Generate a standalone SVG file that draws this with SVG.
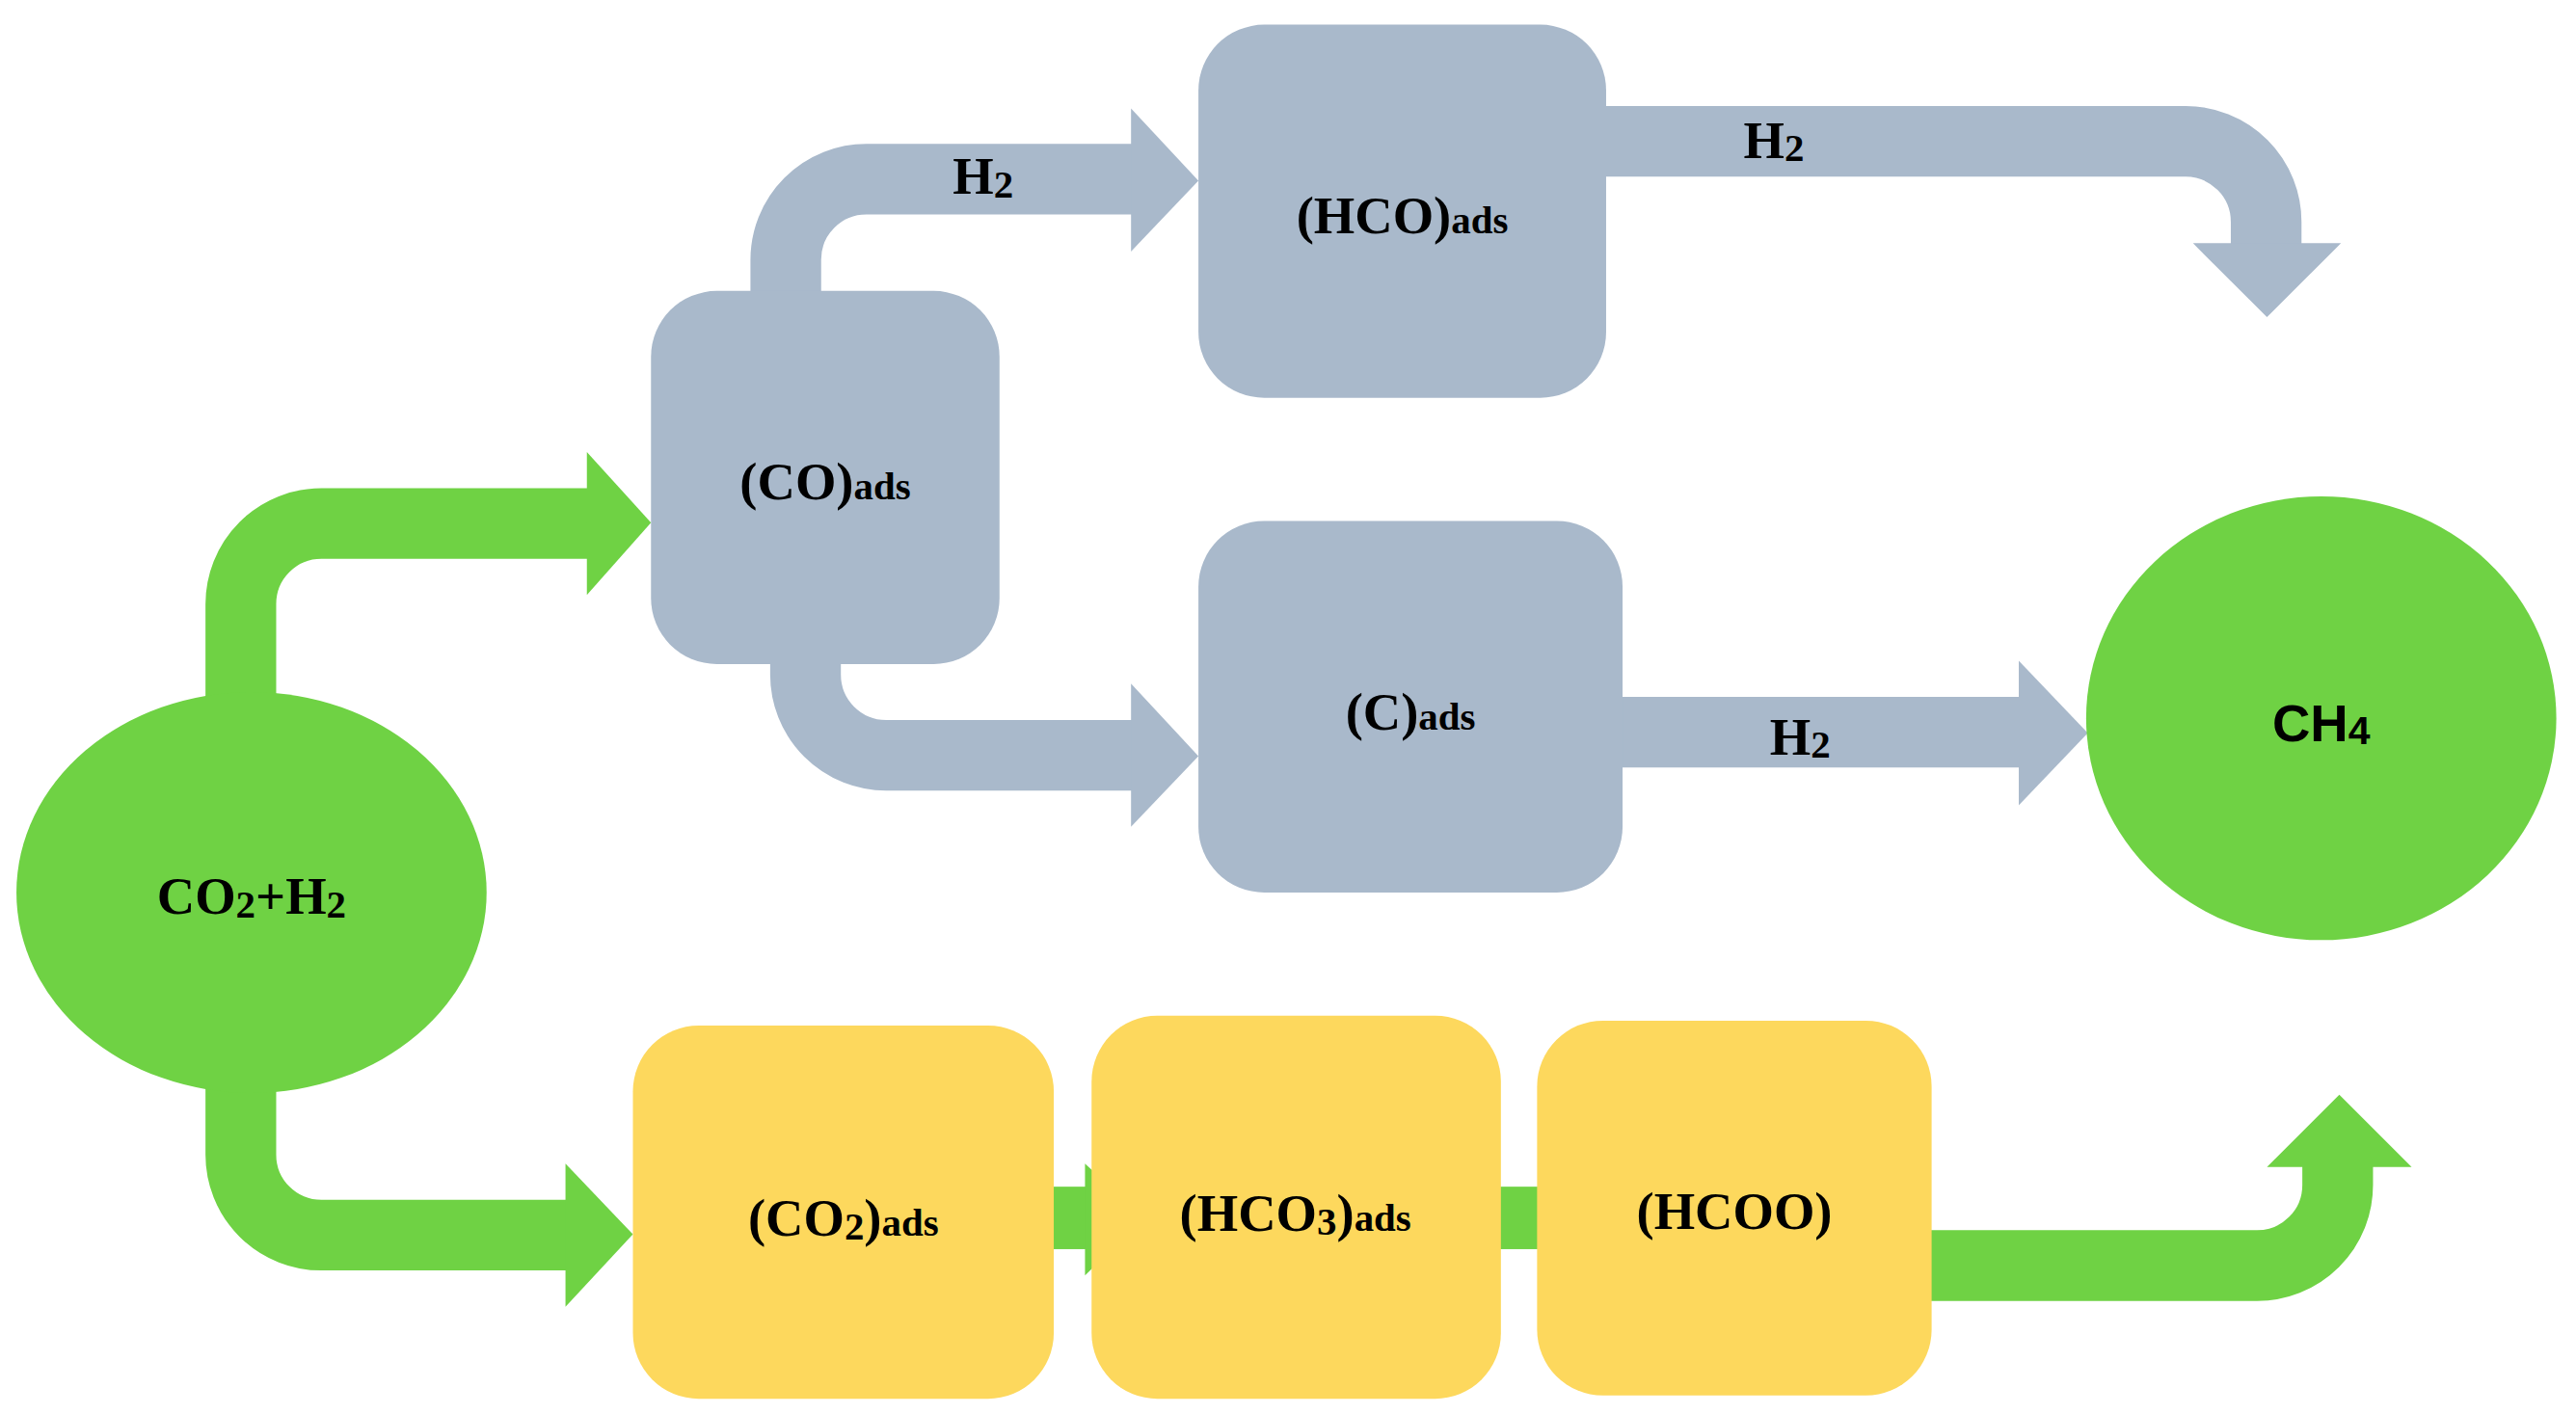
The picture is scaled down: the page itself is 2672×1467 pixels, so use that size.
<svg xmlns="http://www.w3.org/2000/svg" width="2672" height="1467" viewBox="0 0 2672 1467">
<style>
.g{fill:#6fd244}.gs{stroke:#6fd244;fill:none;stroke-width:43}
.b{fill:#a9b9cb}.bs{stroke:#a9b9cb;fill:none;stroke-width:43}
.y{fill:#fdd85d}
text{font-family:"Liberation Serif",serif;font-weight:bold;font-size:32px;fill:#000;text-anchor:middle}
.s{font-size:24px}
</style>
<rect width="2672" height="1467" fill="#fff"/>
<g transform="scale(1.7052)">
<g id="connectors">
<path class="gs" d="M146.5 425 V367.5 A49 49 0 0 1 195.5 318.5 H358"/><polygon class="g" points="357,275 396,318 357,362"/>
<path class="gs" d="M146.5 660 V702.5 A49 49 0 0 0 195.5 751.5 H345"/><polygon class="g" points="344,708 385,751 344,795"/>
<path class="bs" d="M478 182 V158 A49 49 0 0 1 527 109 H690"/><polygon class="b" points="688,66 729,110 688,153"/>
<path class="bs" d="M490 400 V410.5 A49 49 0 0 0 539 459.5 H690"/><polygon class="b" points="688,416 729,460 688,503"/>
<path class="bs" d="M975 86 H1329.5 A49 49 0 0 1 1378.5 135 V150"/><polygon class="b" points="1334,148 1424,148 1379,193"/>
<path class="bs" d="M985 445.5 H1230"/><polygon class="b" points="1228,402 1270,446 1228,490"/>
<path class="gs" d="M1173 770 H1373 A49 49 0 0 0 1422 721 V708"/><polygon class="g" points="1379,710 1467,710 1423,666"/>
<rect class="g" x="605" y="722" width="57" height="38"/><polygon class="g" points="660,708 696,741 660,776"/>
<rect class="g" x="887" y="722" width="57" height="38"/><polygon class="g" points="942,706 978,742 942,778"/>
<text x="598" y="118">H<tspan class="s" dy="2">2</tspan></text>
<text x="1079" y="96">H<tspan class="s" dy="2">2</tspan></text>
<text x="1095" y="459">H<tspan class="s" dy="2">2</tspan></text>
</g>
<g id="n-co2h2"><ellipse class="g" cx="153" cy="543" rx="143" ry="122"/><text x="153" y="556">CO<tspan class="s" dy="2">2</tspan><tspan dy="-2">+H</tspan><tspan class="s" dy="2">2</tspan></text></g>
<g id="n-ch4"><ellipse class="g" cx="1412" cy="437" rx="143" ry="135"/><text x="1412" y="451" style="font-family:'Liberation Sans',sans-serif">CH<tspan class="s" dy="2">4</tspan></text></g>
<g id="n-co"><rect class="b" x="396" y="177" width="212" height="227" rx="40"/><text x="502" y="304">(CO)<tspan class="s">ads</tspan></text></g>
<g id="n-hco"><rect class="b" x="729" y="15" width="248" height="227" rx="40"/><text x="853" y="142">(HCO)<tspan class="s">ads</tspan></text></g>
<g id="n-c"><rect class="b" x="729" y="317" width="258" height="226" rx="40"/><text x="858" y="444">(C)<tspan class="s">ads</tspan></text></g>
<g id="n-co2ads"><rect class="y" x="385" y="624" width="256" height="227" rx="40"/><text x="513" y="752">(CO<tspan class="s" dy="2">2</tspan><tspan dy="-2">)</tspan><tspan class="s">ads</tspan></text></g>
<g id="n-hco3"><rect class="y" x="664" y="618" width="249" height="233" rx="40"/><text x="788" y="749">(HCO<tspan class="s" dy="2">3</tspan><tspan dy="-2">)</tspan><tspan class="s">ads</tspan></text></g>
<g id="n-hcoo"><rect class="y" x="935" y="621" width="240" height="228" rx="40"/><text x="1055" y="748">(HCOO)</text></g>
</g>
</svg>
